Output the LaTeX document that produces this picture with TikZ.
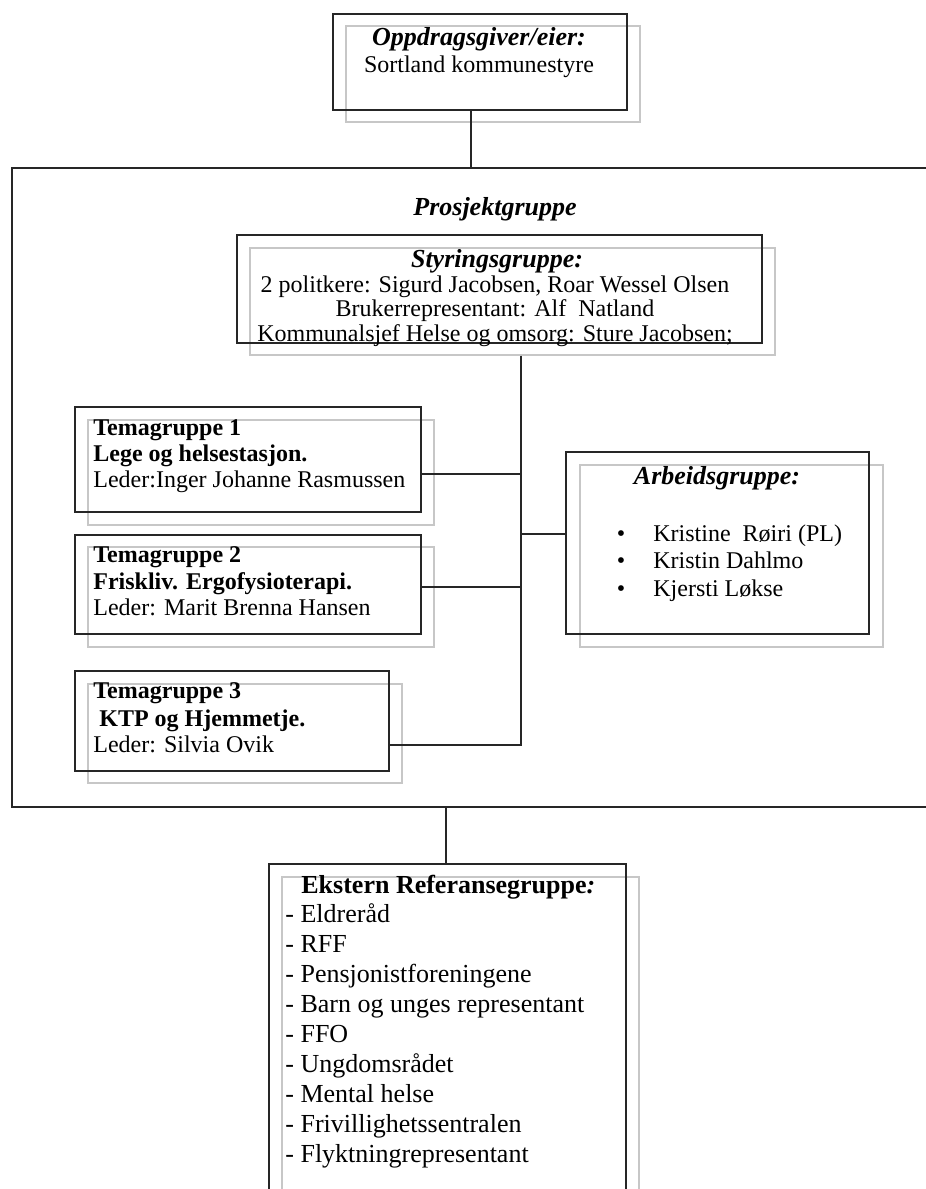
\documentclass[tikz,border=0pt]{standalone}
\usepackage{fontspec}
\setmainfont{Liberation Serif}
\usetikzlibrary{fit}
\begin{document}
\begin{tikzpicture}[x=0.5pt,y=-0.5pt,
  bbox/.style={draw=black!85, line width=0.8pt, inner sep=0pt},
  sbox/.style={draw=black!22, line width=0.6pt, inner sep=0pt},
  conn/.style={draw=black!85, line width=0.7pt},
  txt/.style={inner sep=0pt, font=\fontsize{12}{14}\selectfont},
  ltxt/.style={txt, anchor=mid west},
  ctxt/.style={txt, anchor=mid},
  bi/.style={font=\fontsize{13}{15}\selectfont\bfseries\itshape},
  bf/.style={font=\fontsize{12}{14}\selectfont\bfseries},
  big13/.style={font=\fontsize{13}{15}\selectfont},
  bf13/.style={font=\fontsize{13}{15}\selectfont\bfseries}]
\useasboundingbox (0,0) rectangle (926,1189);
\clip (0,0) rectangle (926,1189);
\fill[white] (0,0) rectangle (926,1189);

% top box
\node[sbox, fit={(346,26)(640,122)}] (topS) {};
\node[bbox, fit={(333,14)(627,110)}] (top) {};
\node[ctxt, bi] (topT) at (479,41) {Oppdragsgiver/eier:};
\node[ctxt] (topN) at (479,68) {Sortland kommunestyre};

% big project box (right side open beyond page)
\node[bbox, fit={(12,168)(960,807)}] (big) {};
\node[ctxt, bi] (prosj) at (495,211) {Prosjektgruppe};

% Styringsgruppe
\node[sbox, fit={(250,248)(775,355)}] (styrS) {};
\node[bbox, fit={(237,235)(762,343)}] (styr) {};
\node[ctxt, bi] (styr1) at (497,263) {Styringsgruppe:};
\node[ctxt] (styr2) at (495,288) {2 politkere: Sigurd Jacobsen, Roar Wessel Olsen};
\node[ctxt] (styr3) at (495,312) {Brukerrepresentant: Alf\ \ Natland};
\node[ctxt] (styr4) at (495,337) {Kommunalsjef Helse og omsorg: Sture Jacobsen;};

% Temagruppe 1
\node[sbox, fit={(88,420)(434,525)}] (t1S) {};
\node[bbox, fit={(75,407)(421,512)}] (t1) {};
\node[ltxt, bf] (t1a) at (93,431) {Temagruppe 1};
\node[ltxt, bf] (t1b) at (93,457) {Lege og helsestasjon.};
\node[ltxt] (t1c) at (93,483) {Leder:Inger Johanne Rasmussen};

% Temagruppe 2
\node[sbox, fit={(88,547)(434,647)}] (t2S) {};
\node[bbox, fit={(75,535)(421,634)}] (t2) {};
\node[ltxt, bf] (t2a) at (93,558) {Temagruppe 2};
\node[ltxt, bf] (t2b) at (93,585) {Friskliv. Ergofysioterapi.};
\node[ltxt] (t2c) at (93,611) {Leder: Marit Brenna Hansen};

% Temagruppe 3
\node[sbox, fit={(88,684)(402,783)}] (t3S) {};
\node[bbox, fit={(75,671)(389,771)}] (t3) {};
\node[ltxt, bf] (t3a) at (93,694) {Temagruppe 3};
\node[ltxt, bf] (t3b) at (99,722) {KTP og Hjemmetje.};
\node[ltxt] (t3c) at (93,748) {Leder: Silvia Ovik};

% Arbeidsgruppe
\node[sbox, fit={(580,465)(883,647)}] (arbS) {};
\node[bbox, fit={(566,452)(869,634)}] (arb) {};
\node[ctxt, bi] (arbT) at (717,480) {Arbeidsgruppe:};
\node[ctxt] (b1) at (621,537) {•};
\node[ctxt] (b2) at (621,564) {•};
\node[ctxt] (b3) at (621,592) {•};
\node[ltxt] (a1) at (653,537) {Kristine\ \ Røiri (PL)};
\node[ltxt] (a2) at (653,564) {Kristin Dahlmo};
\node[ltxt] (a3) at (653,592) {Kjersti Løkse};

% Ekstern Referansegruppe
\node[sbox, fit={(282,877)(639,1215)}] (ekstS) {};
\node[bbox, fit={(269,864)(626,1205)}] (ekst) {};
\node[ltxt, bf13] (e0) at (301,889) {Ekstern Referansegruppe\textit{:}};
\node[ltxt, big13] (e1) at (285,918) {- Eldreråd};
\node[ltxt, big13] (e2) at (285,948) {- RFF};
\node[ltxt, big13] (e3) at (285,978) {- Pensjonistforeningene};
\node[ltxt, big13] (e4) at (285,1008) {- Barn og unges representant};
\node[ltxt, big13] (e5) at (285,1038) {- FFO};
\node[ltxt, big13] (e6) at (285,1068) {- Ungdomsrådet};
\node[ltxt, big13] (e7) at (285,1098) {- Mental helse};
\node[ltxt, big13] (e8) at (285,1128) {- Frivillighetssentralen};
\node[ltxt, big13] (e9) at (285,1158) {- Flyktningrepresentant};

% connectors
\draw[conn] ([xshift=-4.5pt]top.south) -- ([xshift=-4.5pt]top.south |- big.north);
\coordinate (spTop) at ([xshift=4.25pt]styrS.south);
\draw[conn] (spTop) |- ([yshift=-12pt]t3.east);
\draw[conn] ([yshift=-7.25pt]t1.east) -- ([yshift=-7.25pt]t1.east -| spTop);
\draw[conn] ([yshift=-1.25pt]t2.east) -- ([yshift=-1.25pt]t2.east -| spTop);
\draw[conn] ([yshift=4.5pt]arb.west) -- ([yshift=4.5pt]arb.west -| spTop);
\draw[conn] ([xshift=-0.75pt]ekst.north) -- ([xshift=-0.75pt]ekst.north |- big.south);
\end{tikzpicture}
\end{document}
